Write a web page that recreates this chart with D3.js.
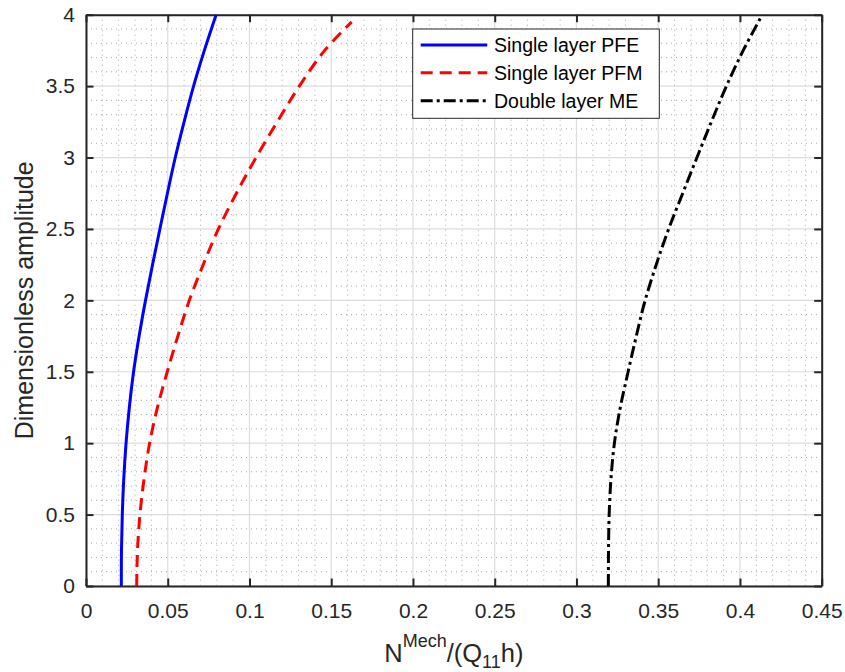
<!DOCTYPE html>
<html>
<head>
<meta charset="utf-8">
<script src="https://cdnjs.cloudflare.com/ajax/libs/d3/7.8.5/d3.min.js"></script>
<style>
  html, body { margin: 0; padding: 0; background: #fff; }
  svg { display: block; font-family: "Liberation Sans", Arial, Helvetica, sans-serif; }
</style>
</head>
<body>
<svg id="chart" width="845" height="672"></svg>
<script>
// ---- data ----
const amplitude = [0, 0.25, 0.5, 0.75, 1, 1.25, 1.5, 1.75, 2, 2.25, 2.5, 2.75, 3, 3.25, 3.5, 3.75, 4];
const pfeValues = [0.0216, 0.0217, 0.0222, 0.0231, 0.0245, 0.0265, 0.0291, 0.0325, 0.0364, 0.0407, 0.0452, 0.0498, 0.0546, 0.0600, 0.0658, 0.0724, 0.0796];
const pfmAmplitude = [0, 0.25, 0.5, 0.75, 1, 1.25, 1.5, 1.75, 2, 2.25, 2.5, 2.75, 3, 3.25, 3.5, 3.75, 3.95];
const pfmValues = [0.0310, 0.0315, 0.0330, 0.0355, 0.0389, 0.0437, 0.0497, 0.0562, 0.0632, 0.0717, 0.0810, 0.0920, 0.1040, 0.1170, 0.1305, 0.1460, 0.1625];
const meValues = [0.3195, 0.3196, 0.3200, 0.3211, 0.3232, 0.3268, 0.3316, 0.3366, 0.3420, 0.3488, 0.3564, 0.3650, 0.3737, 0.3825, 0.3917, 0.4020, 0.4137];
const xTicks = [0, 0.05, 0.1, 0.15, 0.2, 0.25, 0.3, 0.35, 0.4, 0.45];
const xTickLabels = ["0", "0.05", "0.1", "0.15", "0.2", "0.25", "0.3", "0.35", "0.4", "0.45"];
const yTicks = [0, 0.5, 1, 1.5, 2, 2.5, 3, 3.5, 4];
const yTickLabels = ["0", "0.5", "1", "1.5", "2", "2.5", "3", "3.5", "4"];
const seriesNames = ["Single layer PFE", "Single layer PFM", "Double layer ME"];
const seriesColors = ["#0000ff", "#ff0000", "#000000"];
const seriesDash = [null, "12 7", "12 4 3 4"];

// ---- layout ----
const L = 86, T = 14.7, R = 821.7, B = 586;
const svg = d3.select("#chart");
const x = d3.scaleLinear().domain([0, 0.45]).range([L, R]);
const y = d3.scaleLinear().domain([0, 4]).range([B, T]);
const axisColor = "#262626";

// minor grid
const xMinor = d3.range(0, 0.4501, 0.01).filter(v => Math.abs(Math.round(v / 0.05) * 0.05 - v) > 1e-6);
const yMinor = d3.range(0, 4.0001, 0.1).filter(v => Math.abs(Math.round(v / 0.5) * 0.5 - v) > 1e-6);
const grid = svg.append("g");
grid.selectAll(".xm").data(xMinor).enter().append("line")
  .attr("x1", d => x(d)).attr("x2", d => x(d)).attr("y1", T).attr("y2", B)
  .attr("stroke", "#aaaaaa").attr("stroke-width", 1).attr("stroke-dasharray", "1 4");
grid.selectAll(".ym").data(yMinor).enter().append("line")
  .attr("y1", d => y(d)).attr("y2", d => y(d)).attr("x1", L).attr("x2", R)
  .attr("stroke", "#aaaaaa").attr("stroke-width", 1).attr("stroke-dasharray", "1 4");
// major grid
grid.selectAll(".xM").data(xTicks).enter().append("line")
  .attr("x1", d => x(d)).attr("x2", d => x(d)).attr("y1", T).attr("y2", B)
  .attr("stroke", "#dcdcdc").attr("stroke-width", 1.2);
grid.selectAll(".yM").data(yTicks).enter().append("line")
  .attr("y1", d => y(d)).attr("y2", d => y(d)).attr("x1", L).attr("x2", R)
  .attr("stroke", "#dcdcdc").attr("stroke-width", 1.2);

// axes
const tickLen = 7.5;
const fmtX = d => xTickLabels[xTicks.indexOf(d)];
const fmtY = d => yTickLabels[yTicks.indexOf(d)];
const xAxis = svg.append("g").attr("transform", `translate(0,${B})`)
  .call(d3.axisBottom(x).tickValues(xTicks).tickFormat(fmtX).tickSizeInner(-tickLen).tickSizeOuter(0).tickPadding(17));
const xAxisTop = svg.append("g").attr("transform", `translate(0,${T})`)
  .call(d3.axisTop(x).tickValues(xTicks).tickFormat("").tickSizeInner(-tickLen).tickSizeOuter(0));
const yAxis = svg.append("g").attr("transform", `translate(${L},0)`)
  .call(d3.axisLeft(y).tickValues(yTicks).tickFormat(fmtY).tickSizeInner(-tickLen).tickSizeOuter(0).tickPadding(11));
const yAxisRight = svg.append("g").attr("transform", `translate(${R},0)`)
  .call(d3.axisRight(y).tickValues(yTicks).tickFormat("").tickSizeInner(-tickLen).tickSizeOuter(0));
[xAxis, xAxisTop, yAxis, yAxisRight].forEach(g => {
  g.select(".domain").attr("stroke", axisColor).attr("stroke-width", 2);
  g.selectAll(".tick line").attr("stroke", axisColor).attr("stroke-width", 2);
  g.selectAll(".tick text").attr("fill", axisColor).style("font-size", "21px")
    .style("font-family", "'Liberation Sans', Arial, sans-serif");
});
xAxis.selectAll(".tick text").attr("dy", "0.71em");

// curves
const series = [
  { ys: amplitude, xs: pfeValues },
  { ys: pfmAmplitude, xs: pfmValues },
  { ys: amplitude, xs: meValues }
];
const line = d3.line().x(d => x(d[0])).y(d => y(d[1])).curve(d3.curveCatmullRom.alpha(0.5));
series.forEach((s, i) => {
  const pts = s.ys.map((v, j) => [s.xs[j], v]);
  svg.append("path").attr("d", line(pts)).attr("fill", "none")
    .attr("stroke", seriesColors[i]).attr("stroke-width", 3)
    .attr("stroke-dasharray", seriesDash[i]);
});

// legend
const lg = svg.append("g");
lg.append("rect").attr("x", 412.7).attr("y", 29).attr("width", 246.6).attr("height", 89.3)
  .attr("fill", "#fff").attr("stroke", axisColor).attr("stroke-width", 1);
const rowY = [45, 72.7, 100.7];
seriesNames.forEach((n, i) => {
  lg.append("line").attr("x1", 420.7).attr("x2", 487.3).attr("y1", rowY[i]).attr("y2", rowY[i])
    .attr("stroke", seriesColors[i]).attr("stroke-width", 3).attr("stroke-dasharray", seriesDash[i]);
  lg.append("text").attr("x", 494).attr("y", rowY[i]).attr("dy", "0.36em")
    .attr("fill", "#000").style("font-size", "19.5px").text(n);
});

// axis labels
const xl = svg.append("text").attr("x", (L + R) / 2).attr("y", 662).attr("text-anchor", "middle")
  .attr("fill", axisColor).style("font-size", "25.5px");
xl.append("tspan").text("N");
xl.append("tspan").attr("dy", -15).style("font-size", "18px").text("Mech");
xl.append("tspan").attr("dy", 15).text("/(Q");
xl.append("tspan").attr("dy", 6).style("font-size", "18px").text("11");
xl.append("tspan").attr("dy", -6).text("h)");

svg.append("text").attr("transform", `translate(33,${(T + B) / 2}) rotate(-90)`)
  .attr("text-anchor", "middle").attr("fill", axisColor).style("font-size", "25px")
  .text("Dimensionless amplitude");
</script>
</body>
</html>
